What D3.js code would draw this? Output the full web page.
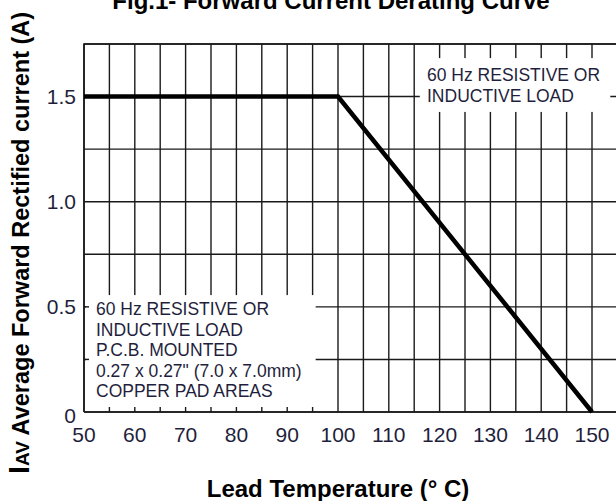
<!DOCTYPE html>
<html>
<head>
<meta charset="utf-8">
<script src="https://cdn.jsdelivr.net/npm/d3@7"></script>
<style>
  body { margin: 0; background: #fff; }
  svg { display: block; font-family: "Liberation Sans", Arial, sans-serif; }
</style>
</head>
<body>
<div id="chart"></div>
<script>
// derating curve points (lead temp in C, current in A)
const tempC = [50, 100, 150];
const currentA = [1.5, 1.5, 0];

const xTicks = [50, 60, 70, 80, 90, 100, 110, 120, 130, 140, 150];
const yTicks = [0, 0.5, 1.0, 1.5];
const yTickLabels = ["0", "0.5", "1.0", "1.5"];

const noteTop = ["60 Hz RESISTIVE OR", "INDUCTIVE LOAD"];
const noteBottom = ["60 Hz RESISTIVE OR", "INDUCTIVE LOAD", "P.C.B. MOUNTED",
  "0.27 x 0.27\" (7.0 x 7.0mm)", "COPPER PAD AREAS"];

const width = 616, height = 501;
const margin = { top: 44, right: 24, bottom: 89, left: 84 };

const svg = d3.select("#chart")
  .append("svg")
  .attr("width", width)
  .attr("height", height);

let x = d3.scaleLinear()
  .domain([50, 150])
  .range([margin.left, width - margin.right]);

let y = d3.scaleLinear()
  .domain([0, 1.75])
  .range([height - margin.bottom, margin.top]);

const ink = "#1a1a1a";
const labelColor = "#1f1f3d";

// grid - vertical every 5 C, horizontal every 0.25 A
const grid = svg.append("g").attr("stroke", ink).attr("stroke-width", 1.4);
grid.selectAll("line.v")
  .data(d3.range(50, 160, 5))
  .join("line")
  .attr("x1", d => x(d)).attr("x2", d => x(d))
  .attr("y1", y(1.75)).attr("y2", y(0));
grid.selectAll("line.h")
  .data(d3.range(0, 2, 0.25))
  .join("line")
  .attr("x1", x(50)).attr("x2", width + 5)
  .attr("y1", d => y(d)).attr("y2", d => y(d));

// white boxes behind the notes
const boxes = [
  { x0: 116.1, x1: 153.6, y0: 1.683, y1: 1.427 },
  { x0: 50.4, x1: 95.6, y0: 0.556, y1: 0.005 }
];
svg.append("g").selectAll("rect")
  .data(boxes)
  .join("rect")
  .attr("x", d => x(d.x0))
  .attr("y", d => y(d.y0))
  .attr("width", d => x(d.x1) - x(d.x0))
  .attr("height", d => y(d.y1) - y(d.y0))
  .attr("fill", "#fff");

// small inner ticks on left and bottom axes
const ticks = svg.append("g").attr("stroke", ink).attr("stroke-width", 1.4);
ticks.selectAll("line.bt")
  .data(d3.range(55, 100, 5))
  .join("line")
  .attr("x1", d => x(d)).attr("x2", d => x(d))
  .attr("y1", y(0)).attr("y2", y(0) - 5);
ticks.selectAll("line.lt")
  .data([0.25, 0.5])
  .join("line")
  .attr("x1", x(50)).attr("x2", x(50) + 5)
  .attr("y1", d => y(d)).attr("y2", d => y(d));

// axis frame
svg.append("path")
  .attr("d", `M${x(50)},${y(0)}V${y(1.75)}H${width + 5}M${x(50)},${y(0)}H${width + 5}`)
  .attr("fill", "none")
  .attr("stroke", ink)
  .attr("stroke-width", 1.6);

// derating line
const line = d3.line()
  .x((d, i) => x(tempC[i]))
  .y(d => y(d));
svg.append("path")
  .datum(currentA)
  .attr("d", line)
  .attr("fill", "none")
  .attr("stroke", "#000")
  .attr("stroke-width", 4.5)
  .attr("stroke-linejoin", "miter");

// tick labels
svg.append("g").selectAll("text")
  .data(xTicks)
  .join("text")
  .attr("x", d => x(d))
  .attr("y", y(0) + 30)
  .attr("text-anchor", "middle")
  .attr("font-size", 21)
  .attr("fill", labelColor)
  .text(d => d);

svg.append("g").selectAll("text")
  .data(yTicks)
  .join("text")
  .attr("x", x(50) - 8)
  .attr("y", (d, i) => y(d) + (d === 0 ? 11 : 7.5))
  .attr("text-anchor", "end")
  .attr("font-size", 21)
  .attr("fill", labelColor)
  .text((d, i) => yTickLabels[i]);

// notes
svg.append("g").selectAll("text")
  .data(noteTop)
  .join("text")
  .attr("x", 427)
  .attr("y", (d, i) => 81 + i * 21)
  .attr("font-size", 17.5)
  .attr("fill", labelColor)
  .text(d => d);

svg.append("g").selectAll("text")
  .data(noteBottom)
  .join("text")
  .attr("x", 96)
  .attr("y", (d, i) => 315 + i * 20.6)
  .attr("font-size", 17.5)
  .attr("fill", labelColor)
  .text(d => d);

// titles
svg.append("text")
  .attr("x", 331)
  .attr("y", 9)
  .attr("text-anchor", "middle")
  .attr("font-size", 24)
  .attr("font-weight", "bold")
  .text("Fig.1- Forward Current Derating Curve");

svg.append("text")
  .attr("x", 338)
  .attr("y", 497)
  .attr("text-anchor", "middle")
  .attr("font-size", 24)
  .attr("font-weight", "bold")
  .text("Lead Temperature (° C)");

const yTitle = svg.append("text")
  .attr("transform", "translate(29,243) rotate(-90)")
  .attr("text-anchor", "middle")
  .attr("font-weight", "bold");
yTitle.append("tspan").attr("font-size", 29).text("I");
yTitle.append("tspan").attr("font-size", 19).text("AV");
yTitle.append("tspan").attr("font-size", 23.5).text(" Average Forward Rectified current (A)");
</script>
</body>
</html>
